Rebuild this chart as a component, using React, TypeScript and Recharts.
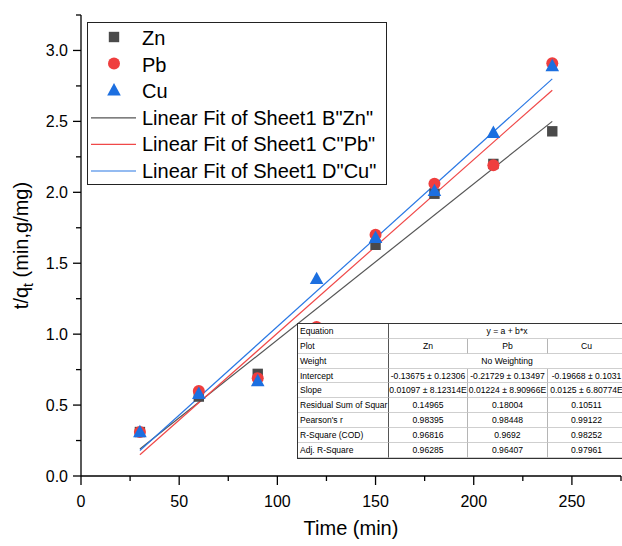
import { ComposedChart, Scatter, Line, XAxis, YAxis, Legend } from 'recharts'

// sampling times (min)
const times = [30, 60, 90, 120, 150, 180, 210, 240]
// t/qt values
const znValues = [0.31, 0.56, 0.72, 0.92, 1.63, 1.99, 2.2, 2.43]
const pbValues = [0.31, 0.6, 0.69, 1.05, 1.7, 2.06, 2.19, 2.91]
const cuValues = [0.31, 0.58, 0.67, 1.39, 1.68, 2.01, 2.42, 2.89]

// linear fit end points (x = 30 and x = 240)
const fitTimes = [30, 240]
const znFit = [0.19, 2.5]
const pbFit = [0.15, 2.72]
const cuFit = [0.18, 2.8]

const xTicks = [0, 25, 50, 75, 100, 125, 150, 175, 200, 225, 250, 275]
const yTicks = [0, 0.25, 0.5, 0.75, 1, 1.25, 1.5, 1.75, 2, 2.25, 2.5, 2.75, 3, 3.25]

const legendLabels = ['Zn', 'Pb', 'Cu', 'Linear Fit of Sheet1 B"Zn"', 'Linear Fit of Sheet1 C"Pb"', 'Linear Fit of Sheet1 D"Cu"']

// fit results table, as printed
const tableLabels = ['Equation', 'Plot', 'Weight', 'Intercept', 'Slope', 'Residual Sum of Squar', "Pearson's r", 'R-Square (COD)', 'Adj. R-Square']
const tablePlots = ['Zn', 'Pb', 'Cu']
const equationText = 'y = a + b*x'
const weightText = 'No Weighting'
const intercepts = ['-0.13675 ± 0.12306', '-0.21729 ± 0.13497', '-0.19668 ± 0.1031']
const slopes = ['0.01097 ± 8.12314E', '0.01224 ± 8.90966E', '0.0125 ± 6.80774E']
const rss = ['0.14965', '0.18004', '0.10511']
const pearson = ['0.98395', '0.98448', '0.99122']
const rSquare = ['0.96816', '0.9692', '0.98252']
const adjRSquare = ['0.96285', '0.96407', '0.97961']

const ZN = '#4a4a4a'
const PB = '#ef3e3e'
const CU = '#1c6fe0'
const ZN_LINE = '#555555'
const PB_LINE = '#f04848'
const CU_LINE = '#2a78e4'
const FONT = 'Arial, "Liberation Sans", sans-serif'

const toPoints = (xs: number[], ys: number[]) => xs.map((x, i) => ({ x, y: ys[i] }))

const znData = toPoints(times, znValues)
const pbData = toPoints(times, pbValues)
const cuData = toPoints(times, cuValues)
const znFitData = toPoints(fitTimes, znFit)
const pbFitData = toPoints(fitTimes, pbFit)
const cuFitData = toPoints(fitTimes, cuFit)

function Square({ cx, cy, fill = ZN }: any) {
  return <rect x={cx - 5.2} y={cy - 5.2} width={10.4} height={10.4} fill={fill} />
}
function Dot({ cx, cy, fill = PB }: any) {
  return <circle cx={cx} cy={cy} r={6} fill={fill} />
}
function Tri({ cx, cy, fill = CU }: any) {
  return <polygon points={`${cx},${cy - 7.2} ${cx - 6.8},${cy + 5.2} ${cx + 6.8},${cy + 5.2}`} fill={fill} />
}

function XTick({ x, y, payload }: any) {
  const v = payload.value as number
  const major = v % 50 === 0
  return (
    <g>
      <line x1={x} x2={x} y1={y} y2={y + (major ? 9 : 5)} stroke="#000" strokeWidth={1.3} />
      {major && (
        <text x={x} y={y + 31} textAnchor="middle" fontSize={16} fontFamily={FONT} fill="#000">
          {v}
        </text>
      )}
    </g>
  )
}

function YTick({ x, y, payload }: any) {
  const v = payload.value as number
  const major = Math.abs(v * 2 - Math.round(v * 2)) < 1e-6
  return (
    <g>
      <line x1={x - (major ? 8 : 5)} x2={x} y1={y} y2={y} stroke="#000" strokeWidth={1.3} />
      {major && (
        <text x={x - 13} y={y + 5.8} textAnchor="end" fontSize={16} fontFamily={FONT} fill="#000">
          {v.toFixed(1)}
        </text>
      )}
    </g>
  )
}

function YLabel({ viewBox }: any) {
  const x = viewBox.x + 28
  const y = viewBox.y + viewBox.height / 2
  return (
    <text x={x} y={y} transform={`rotate(-90, ${x}, ${y})`} textAnchor="middle" fontSize={20} fontFamily={FONT} fill="#000">
      t/q<tspan dy={5} fontSize={14}>t</tspan>
      <tspan dy={-5}> (min,g/mg)</tspan>
    </text>
  )
}

function LegendBox() {
  const rowY = (i: number) => 15 + i * 26.6
  return (
    <div style={{ width: 300, height: 163, border: '1.3px solid #222', boxSizing: 'border-box', background: '#fff' }}>
      <svg width={298} height={161} style={{ display: 'block' }}>
        <Square cx={26} cy={rowY(0) - 1} />
        <Dot cx={26} cy={rowY(1) - 1} />
        <Tri cx={26} cy={rowY(2) - 1} />
        <line x1={3} x2={48} y1={rowY(3)} y2={rowY(3)} stroke={ZN_LINE} strokeWidth={1.2} />
        <line x1={3} x2={48} y1={rowY(4)} y2={rowY(4)} stroke={PB_LINE} strokeWidth={1.2} />
        <line x1={3} x2={48} y1={rowY(5)} y2={rowY(5)} stroke={CU_LINE} strokeWidth={1.2} />
        {legendLabels.map((t, i) => (
          <text key={t} x={54} y={rowY(i) + 7} fontSize={20} fontFamily={FONT} fill="#000">
            {t}
          </text>
        ))}
      </svg>
    </div>
  )
}

const ROW_H = 14.85
const COL_W = [91, 79, 80, 78]

function FitTable() {
  const valueRows: (string[] | string)[] = [equationText, tablePlots, weightText, intercepts, slopes, rss, pearson, rSquare, adjRSquare]
  const cell = (left: number, width: number, top: number, text: string, align: 'left' | 'center', key: string, darkRight = false) => (
    <div
      key={key}
      style={{
        position: 'absolute',
        left,
        top,
        width,
        height: ROW_H,
        lineHeight: `${ROW_H}px`,
        fontSize: align === 'left' ? 8.5 : 8.6,
        whiteSpace: 'nowrap',
        textAlign: align,
        paddingLeft: align === 'left' ? 2 : 0,
        boxSizing: 'border-box',
        borderBottom: '1.5px solid #cfcfcf',
        borderRight: darkRight ? '1px solid #555' : '1px solid #b5b5b5',
        color: '#000',
      }}
    >
      {text}
    </div>
  )
  const total = COL_W.reduce((a, b) => a + b, 0)
  return (
    <div
      style={{
        position: 'absolute',
        left: 297,
        top: 323,
        width: total,
        height: ROW_H * 9 + 2,
        background: '#fff',
        borderTop: '1.3px solid #333',
        borderLeft: '1.8px solid #333',
        borderBottom: '1.8px solid #333',
        boxSizing: 'border-box',
        fontFamily: FONT,
      }}
    >
      {tableLabels.map((label, r) => {
        const top = r * ROW_H
        const vals = valueRows[r]
        const out = [cell(0, COL_W[0], top, label, 'left', `l${r}`, true)]
        if (typeof vals === 'string') {
          out.push(cell(COL_W[0], total - COL_W[0], top, vals, 'center', `s${r}`))
        } else {
          let left = COL_W[0]
          vals.forEach((v, c) => {
            out.push(cell(left, COL_W[c + 1], top, v, 'center', `v${r}${c}`))
            left += COL_W[c + 1]
          })
        }
        return out
      })}
    </div>
  )
}

export default function App() {
  return (
    <div style={{ position: 'absolute', left: 0, top: 0, width: 622, height: 546, overflow: 'hidden', background: '#fff', fontFamily: FONT }}>
      <ComposedChart width={622} height={546} margin={{ top: 15, right: 1, bottom: 0, left: 0 }}>
        <XAxis
          type="number"
          dataKey="x"
          domain={[0, 275]}
          ticks={xTicks}
          interval={0}
          height={70}
          tickSize={0}
          tickMargin={0}
          tickLine={false}
          tick={XTick}
          axisLine={{ stroke: '#000', strokeWidth: 1.3 }}
          allowDataOverflow
          label={{ value: 'Time (min)', position: 'insideBottom', offset: 11, fontSize: 20, fill: '#000', fontFamily: FONT }}
        />
        <YAxis
          type="number"
          dataKey="y"
          domain={[0, 3.25]}
          ticks={yTicks}
          interval={0}
          width={81}
          tickSize={0}
          tickMargin={0}
          tickLine={false}
          tick={YTick}
          axisLine={{ stroke: '#000', strokeWidth: 1.3 }}
          allowDataOverflow
          label={<YLabel />}
        />
        <Legend
          layout="vertical"
          align="center"
          verticalAlign="middle"
          wrapperStyle={{ left: 87, top: 22, width: 300, height: 163 }}
          content={() => <LegendBox />}
        />
        <Scatter name="Zn" data={znData} dataKey="y" fill={ZN} shape={<Square />} isAnimationActive={false} />
        <Scatter name="Pb" data={pbData} dataKey="y" fill={PB} shape={<Dot />} isAnimationActive={false} />
        <Scatter name="Cu" data={cuData} dataKey="y" fill={CU} shape={<Tri />} isAnimationActive={false} />
        <Line data={znFitData} dataKey="y" type="linear" stroke={ZN_LINE} strokeWidth={1.2} dot={false} activeDot={false} isAnimationActive={false} />
        <Line data={pbFitData} dataKey="y" type="linear" stroke={PB_LINE} strokeWidth={1.2} dot={false} activeDot={false} isAnimationActive={false} />
        <Line data={cuFitData} dataKey="y" type="linear" stroke={CU_LINE} strokeWidth={1.2} dot={false} activeDot={false} isAnimationActive={false} />
      </ComposedChart>
      <FitTable />
    </div>
  )
}
